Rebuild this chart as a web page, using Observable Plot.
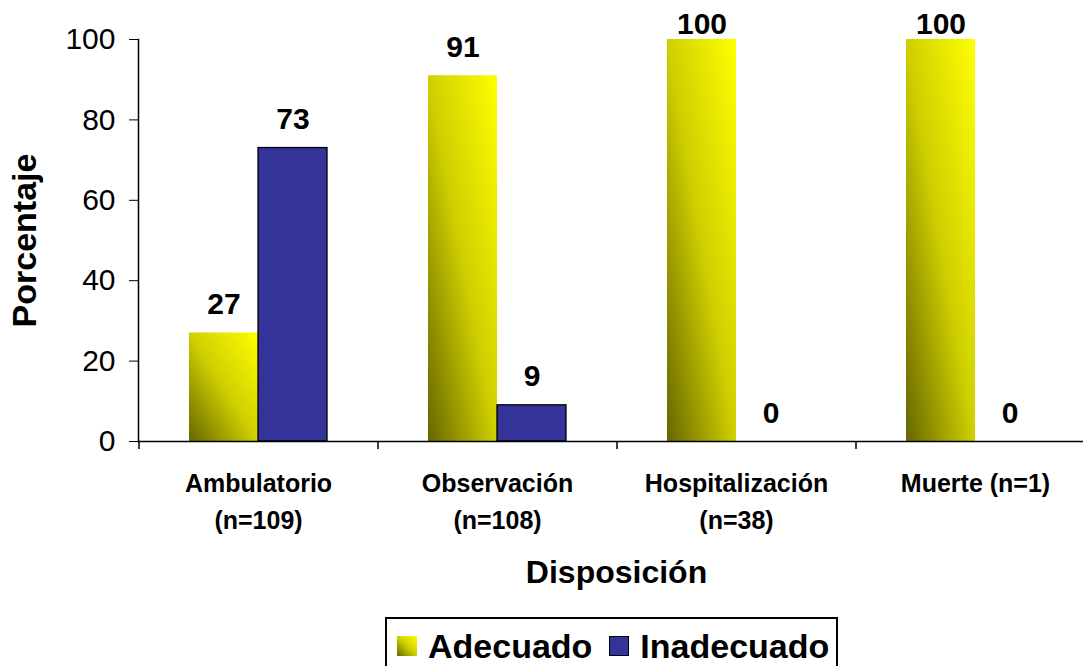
<!DOCTYPE html>
<html>
<head>
<meta charset="utf-8">
<script src="https://cdn.jsdelivr.net/npm/d3@7"></script>
<script src="https://cdn.jsdelivr.net/npm/@observablehq/plot@0.6"></script>
<style>
  html, body { margin: 0; padding: 0; background: #fff; }
  body { font-family: "Liberation Sans", Arial, sans-serif; position: relative; width: 1083px; height: 666px; overflow: hidden; }
  #legend { position: absolute; left: 385px; top: 617px; width: 449px; height: 60px; border: 2px solid #000; box-sizing: content-box; display: flex; align-items: flex-start; }
  .item { display: flex; align-items: center; font-weight: bold; font-size: 34px; color: #000; line-height: 1; }
  .sw { width: 20px; height: 20px; box-sizing: border-box; margin-right: 11px; }
</style>
</head>
<body>
<div id="chart"></div>
<div id="legend"></div>
<script>
// ---- data ----
const categories = ["Ambulatorio", "Observación", "Hospitalización", "Muerte"];
const tickLabels = ["Ambulatorio\n(n=109)", "Observación\n(n=108)", "Hospitalización\n(n=38)", "Muerte (n=1)"];
const series = ["Adecuado", "Inadecuado"];
const adecuado = [27, 91, 100, 100];
const inadecuado = [73, 9, 0, 0];
const yTicks = [0, 20, 40, 60, 80, 100];
const yLabel = "Porcentaje";
const xLabel = "Disposición";
const blue = "#333399";

const rowsA = categories.map((c, i) => ({category: c, series: series[0], value: adecuado[i]}));
const rowsI = categories.map((c, i) => ({category: c, series: series[1], value: inadecuado[i]}));

// ---- layout ----
const W = 1083, H = 612;
const mL = 138, mR = -11, mT = 39, mB = 171;
const pad = 0.4226;
const step = (W - mL - mR) / categories.length;
const bandW = step * (1 - pad);
const half = bandW / 2;

const defs = () => {
  const svg = d3.create("svg:defs");
  const g = svg.append("linearGradient").attr("id", "yellowGrad")
    .attr("x1", 0).attr("y1", 1).attr("x2", 1).attr("y2", 0);
  g.append("stop").attr("offset", 0).attr("stop-color", "#666600");
  g.append("stop").attr("offset", 0.5).attr("stop-color", "#cfcf00");
  g.append("stop").attr("offset", 1).attr("stop-color", "#ffff00");
  return svg.node();
};

const clampTop = (index, scales, values, dimensions, context, next) => {
  const Y = Array.from(values.y, y => Math.max(y, dimensions.marginTop + 13));
  return next(index, scales, {...values, y: Y}, dimensions, context);
};

const chart = Plot.plot({
  width: W, height: H,
  marginLeft: mL, marginRight: mR, marginTop: mT, marginBottom: mB,
  style: {fontFamily: "'Liberation Sans', Arial, sans-serif", color: "#000", background: "#fff", overflow: "visible"},
  x: {type: "band", domain: categories, paddingInner: pad, paddingOuter: pad / 2, axis: null},
  y: {domain: [0, 100], axis: null},
  marks: [
    defs,
    Plot.barY(rowsA, {x: "category", y: "value", fill: "url(#yellowGrad)", insetRight: half}),
    Plot.barY(rowsI, {x: "category", y: "value", fill: blue, stroke: "#000", strokeWidth: 1.3, insetLeft: half}),
    Plot.frame({anchor: "left", stroke: "#000", strokeWidth: 1.5}),
    Plot.frame({anchor: "bottom", stroke: "#000", strokeWidth: 1.5}),
    Plot.axisY({ticks: yTicks, tickSize: 9, tickPadding: 14, fontSize: 30, label: null, stroke: "#000"}),
    Plot.ruleX(categories, {x: d => d, y1: 0, y2: 0, dx: -step / 2, insetTop: 0, insetBottom: -8, stroke: "#000", strokeWidth: 1.5}),
    Plot.axisX({tickSize: 0, tickPadding: 24, fontSize: 25, fontWeight: "bold", lineHeight: 1.48, label: null,
      tickFormat: d => tickLabels[categories.indexOf(d)]}),
    Plot.text(rowsA, {x: "category", y: "value", text: d => String(d.value), dx: -half / 2, dy: -19, lineAnchor: "bottom", fontSize: 30, fontWeight: "bold", render: clampTop}),
    Plot.text(rowsI, {x: "category", y: "value", text: d => String(d.value), dx: half / 2, dy: -19, lineAnchor: "bottom", fontSize: 30, fontWeight: "bold", render: clampTop}),
    Plot.text([yLabel], {frameAnchor: "left", textAnchor: "middle", dx: -113, rotate: -90, fontSize: 34, fontWeight: "bold"}),
    Plot.text([xLabel], {frameAnchor: "bottom", dy: 141, fontSize: 32, fontWeight: "bold"})
  ]
});
document.getElementById("chart").appendChild(chart);

// ---- legend ----
const legend = document.getElementById("legend");
const swatches = ["linear-gradient(to top right, #666600, #cfcf00, #ffff00)", blue];
series.forEach((s, i) => {
  const it = document.createElement("div");
  it.className = "item";
  it.style.marginLeft = i === 0 ? "10px" : "17px";
  it.style.marginTop = "10px";
  const sw = document.createElement("div");
  sw.className = "sw";
  sw.style.background = swatches[i];
  if (i === 1) sw.style.border = "1.5px solid #000";
  const t = document.createElement("span");
  t.textContent = s;
  it.appendChild(sw);
  it.appendChild(t);
  legend.appendChild(it);
});
</script>
</body>
</html>
